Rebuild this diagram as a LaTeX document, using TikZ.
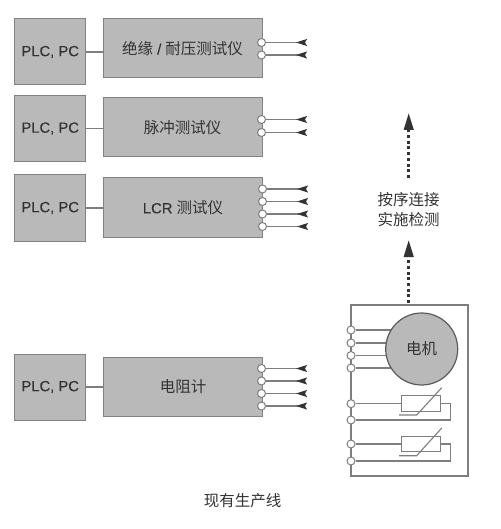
\documentclass[tikz,border=0pt]{standalone}
\usepackage{xcolor}
\usepackage{fontspec}
\setmainfont[FakeBold=0.15]{Liberation Sans}
\newfontfamily\cjk{Noto Sans CJK SC}
\usepackage{tikz}
\usetikzlibrary{arrows.meta,positioning,calc,backgrounds}
\definecolor{boxfill}{HTML}{B9B9B9}
\definecolor{boxline}{HTML}{828282}
\definecolor{wirecol}{HTML}{7E7E7E}
\definecolor{inkcol}{HTML}{333333}

\begin{document}
\begin{tikzpicture}[
    x=1pt,
    y=-1pt,
    font=\fontsize{14.8}{17}\selectfont,
    text=inkcol,
    plc/.style={
        draw=boxline,
        line width=1pt,
        minimum width=71.5pt,
        minimum height=66pt,
        inner sep=0pt,
        fill=boxfill
    },
    meter/.style={
        draw=boxline,
        line width=1pt,
        minimum width=159pt,
        minimum height=59pt,
        inner sep=0pt,
        fill=boxfill
    },
    pin/.style={
        circle,
        draw=wirecol,
        line width=1pt,
        minimum size=8pt,
        inner sep=0pt,
        fill=white
    },
    wire/.style={draw=wirecol, line width=1.1pt},
    lead/.style={wire, -{Stealth[reversed,length=11pt,width=7pt,inset=2pt,color=inkcol]}},
    sensor/.style={
        draw=wirecol,
        line width=1.1pt,
        minimum width=39.5pt,
        minimum height=15.7pt,
        inner sep=0pt
    },
    dotarr/.style={
        draw=inkcol,
        line width=2.6pt,
        dash pattern=on 3pt off 2.7pt,
        -{Triangle[length=17pt,width=9.5pt,color=inkcol]}
    }
]
\useasboundingbox (0,0) rectangle (500,529);

% first tester
\node[plc] (plcA) at (50.2,52) {PLC, PC};
\node[meter] (ins) at (182.5,48.5) {\raisebox{-3pt}{{\cjk\fontsize{15.5}{17}\selectfont 绝缘} / {\cjk\fontsize{15.5}{17}\selectfont 耐压测试仪}}};
\draw[wire] (plcA) -- (plcA -| ins.west);
\node[pin] (insA) at (261.5,42.5) {};
\node[pin] (insB) at (261.5,55) {};
\coordinate (insAe) at (307,42.5);
\coordinate (insBe) at (307,55);
\draw[lead] (insA) -- (insAe);
\draw[lead] (insB) -- (insBe);

% second tester
\node[plc] (plcB) at (50.2,128.5) {PLC, PC};
\node[meter] (pul) at (182.5,127.5) {\cjk\fontsize{15.5}{17}\selectfont 脉冲测试仪};
\draw[wire] (plcB) -- (plcB -| pul.west);
\node[pin] (pulA) at (261.5,119.5) {};
\node[pin] (pulB) at (261.5,132.5) {};
\coordinate (pulAe) at (307,119.5);
\coordinate (pulBe) at (307,132.5);
\draw[lead] (pulA) -- (pulAe);
\draw[lead] (pulB) -- (pulBe);

% third tester
\node[plc] (plcC) at (50.2,208) {PLC, PC};
\node[meter] (lcr) at (183,207.5) {LCR {\cjk\fontsize{15.5}{17}\selectfont 测试仪}};
\draw[wire] (plcC) -- (plcC -| lcr.west);
\node[pin] (lcrA) at (262.5,189) {};
\node[pin] (lcrB) at (262.5,201.5) {};
\node[pin] (lcrC) at (262.5,214) {};
\node[pin] (lcrD) at (262.5,226.5) {};
\coordinate (lcrAe) at (308,189);
\coordinate (lcrBe) at (308,201.5);
\coordinate (lcrCe) at (308,214);
\coordinate (lcrDe) at (308,226.5);
\draw[lead] (lcrA) -- (lcrAe);
\draw[lead] (lcrB) -- (lcrBe);
\draw[lead] (lcrC) -- (lcrCe);
\draw[lead] (lcrD) -- (lcrDe);

% resistance meter
\node[plc] (plcD) at (50.2,387) {PLC, PC};
\node[meter] (res) at (183,386.5) {\cjk\fontsize{15.5}{17}\selectfont 电阻计};
\draw[wire] (plcD) -- (plcD -| res.west);
\node[pin] (resA) at (261.5,368.5) {};
\node[pin] (resB) at (261.5,381) {};
\node[pin] (resC) at (261.5,393.5) {};
\node[pin] (resD) at (261.5,406) {};
\coordinate (resAe) at (307,368.5);
\coordinate (resBe) at (307,381);
\coordinate (resCe) at (307,393.5);
\coordinate (resDe) at (307,406);
\draw[lead] (resA) -- (resAe);
\draw[lead] (resB) -- (resBe);
\draw[lead] (resC) -- (resCe);
\draw[lead] (resD) -- (resDe);

% motor under test
\node[draw=wirecol, line width=1.1pt, minimum width=117pt, minimum height=171pt, inner sep=0pt] (frame) at (409.5,390.5) {};
\node[circle, draw=boxline!70!black, line width=1.2pt, fill=boxfill, minimum size=72pt, inner sep=0pt, font=\fontsize{15.5}{17}\selectfont\cjk] (motor) at (421.7,349) {电机};
\node[pin] (motA) at (351,330) {};
\node[pin] (motB) at (351,343) {};
\node[pin] (motC) at (351,355.5) {};
\node[pin] (motD) at (351,368) {};
\begin{scope}[on background layer]
\draw[wire] (motA) -- (motA -| motor);
\draw[wire] (motB) -- (motB -| motor);
\draw[wire] (motC) -- (motC -| motor);
\draw[wire] (motD) -- (motD -| motor);
\end{scope}

% first sensor
\node[sensor] (senA) at (421,403.5) {};
\node[pin] (senAa) at (351,403.7) {};
\node[pin] (senAb) at (351,420) {};
\coordinate (turnA) at (450.7,420);
\draw[wire] (senAa) -- (senAa -| senA.west);
\draw[wire] (senA.east) -| (turnA) -- (senAb);
\coordinate (slA) at (399,415);
\coordinate (smA) at (416.7,415);
\coordinate (srA) at (441.7,387.7);
\draw[wire] (slA) -- (smA) -- (srA);

% second sensor
\node[sensor] (senB) at (421,444) {};
\node[pin] (senBa) at (351,444) {};
\node[pin] (senBb) at (351,461) {};
\coordinate (turnB) at (450.7,461);
\draw[wire] (senBa) -- (senBa -| senB.west);
\draw[wire] (senB.east) -| (turnB) -- (senBb);
\coordinate (slB) at (399,455.7);
\coordinate (smB) at (416.7,455.7);
\coordinate (srB) at (441.7,428);
\draw[wire] (slB) -- (smB) -- (srB);

% sequence arrows
\coordinate (upAs) at (408.7,303);
\coordinate (upAe) at (408.7,240);
\coordinate (upBs) at (408.7,178);
\coordinate (upBe) at (408.7,113);
\draw[dotarr] (upAs) -- (upAe);
\draw[dotarr] (upBs) -- (upBe);
\node[align=center, font=\fontsize{15.5}{20}\selectfont\cjk] (seq) at (408.7,209.5) {按序连接\\实施检测};

% caption
\node[font=\fontsize{15.5}{18}\selectfont\cjk] (cap) at (242.5,501) {现有生产线};

\end{tikzpicture}
\end{document}
